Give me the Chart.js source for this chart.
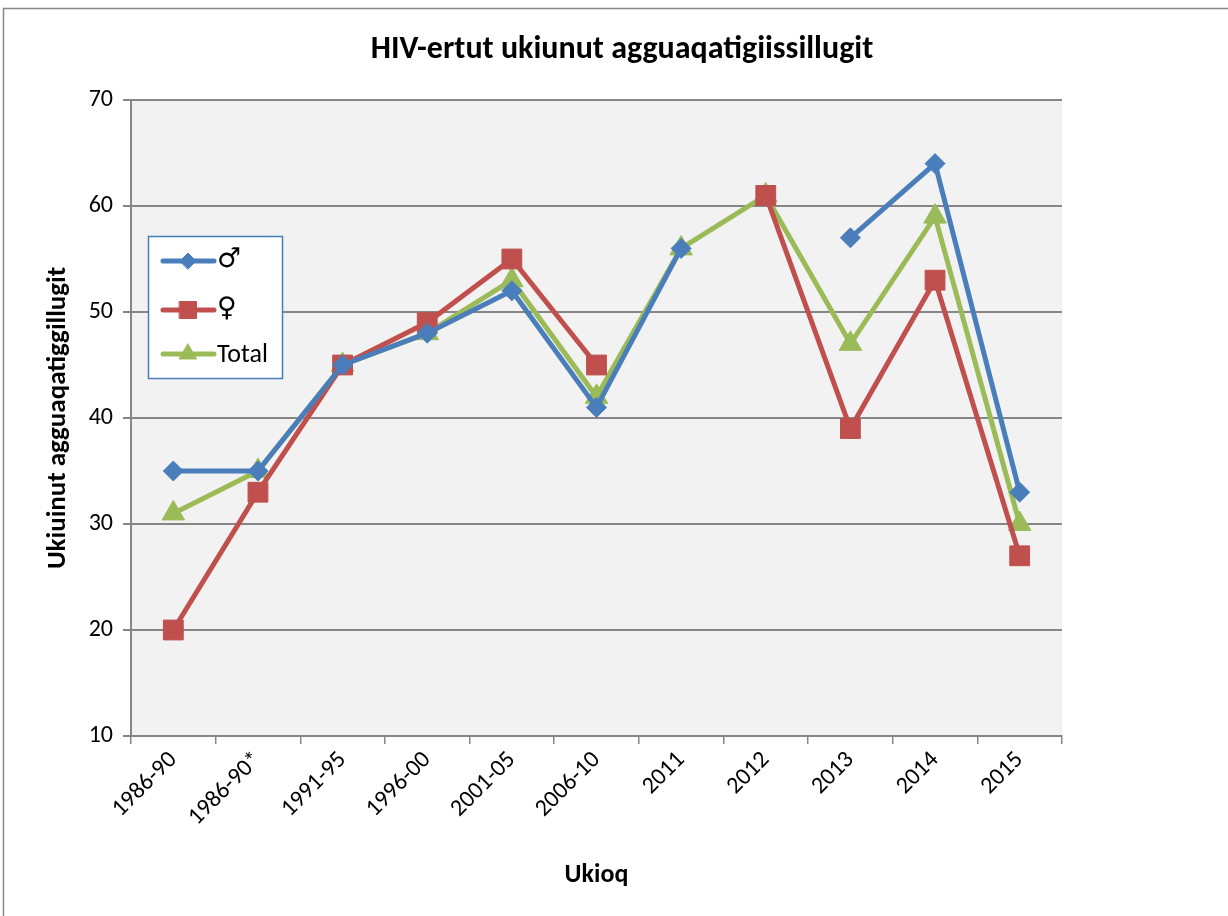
<!DOCTYPE html>
<html>
<head>
<meta charset="utf-8">
<script src="https://cdn.jsdelivr.net/npm/chart.js@4.4.1/dist/chart.umd.min.js"></script>
<style>
  html, body { margin: 0; padding: 0; background: #fff; }
  #wrap { width: 1228px; height: 916px; }
</style>
</head>
<body>
<div id="wrap"><canvas id="hivChart" width="1228" height="916"></canvas></div>
<script>
// Data
const categories = ['1986-90', '1986-90*', '1991-95', '1996-00', '2001-05', '2006-10', '2011', '2012', '2013', '2014', '2015'];
const maleValues = [35, 35, 45, 48, 52, 41, 56, null, 57, 64, 33];
const femaleValues = [20, 33, 45, 49, 55, 45, null, 61, 39, 53, 27];
const totalValues = [31, 35, 45, 48, 53, 42, 56, 61, 47, 59, 30];
const yTicks = [10, 20, 30, 40, 50, 60, 70];

const seriesNames = ['\u2642', '\u2640', 'Total'];
const colors = ['#4a7ebb', '#c0504d', '#9bbb59'];
const markers = ['rectRot', 'rect', 'triangle'];
const markerSizes = [10, 14, 13];
const legendMarkerSizes = [8, 12, 10];
const FONT = 'Carlito, "Open Sans", "Noto Sans", sans-serif';

// Fond gris de la zone de tracé + cadre extérieur + titre + légende
const decorPlugin = {
    id: 'decor',
    beforeDraw(chart) {
        const ctx = chart.ctx;
        const a = chart.chartArea;
        ctx.save();
        ctx.fillStyle = '#ffffff';
        ctx.fillRect(0, 0, chart.width, chart.height);
        ctx.strokeStyle = '#868686';
        ctx.lineWidth = 1.5;
        ctx.strokeRect(3.5, 8.5, chart.width + 10, chart.height + 10);
        ctx.fillStyle = '#f2f2f2';
        ctx.fillRect(a.left, a.top, a.right - a.left, a.bottom - a.top);
        ctx.restore();
    },
    afterDraw(chart) {
        const ctx = chart.ctx;
        ctx.save();
        // titre
        ctx.fillStyle = '#000';
        ctx.font = 'bold 32px ' + FONT;
        ctx.textAlign = 'center';
        ctx.textBaseline = 'middle';
        ctx.fillText('HIV-ertut ukiunut agguaqatigiissillugit', 622, 50);

        // légende
        const bx = 148, by = 236, bw = 134, bh = 142;
        ctx.fillStyle = '#ffffff';
        ctx.fillRect(bx, by, bw, bh);
        ctx.strokeStyle = '#4a7ebb';
        ctx.lineWidth = 1.5;
        ctx.strokeRect(bx + 0.5, by + 0.5, bw, bh);
        const rowsY = [261, 310, 354];
        for (let i = 0; i < 3; i++) {
            const y = rowsY[i];
            ctx.strokeStyle = colors[i];
            ctx.lineWidth = 5;
            ctx.lineCap = 'round';
            ctx.beginPath();
            ctx.moveTo(163, y);
            ctx.lineTo(214, y);
            ctx.stroke();
            ctx.fillStyle = colors[i];
            ctx.strokeStyle = colors[i];
            ctx.lineWidth = 1;
            Chart.helpers.drawPoint(ctx, {
                pointStyle: markers[i], radius: legendMarkerSizes[i], rotation: 0, borderWidth: 1
            }, 188, y);
            ctx.fillStyle = '#000';
            ctx.textAlign = 'left';
            ctx.textBaseline = 'middle';
            ctx.font = i < 2 ? '27px "DejaVu Sans"' : '26px ' + FONT;
            ctx.fillText(seriesNames[i], 217, y + (i < 2 ? -1 : 1));
        }
        ctx.restore();
    }
};

function makeDataset(label, values, i) {
    return {
        label: label,
        data: values,
        borderColor: colors[i],
        backgroundColor: colors[i],
        borderWidth: 5,
        pointStyle: markers[i],
        pointRadius: markerSizes[i],
        pointHoverRadius: markerSizes[i],
        pointBorderWidth: 1,
        spanGaps: false,
        tension: 0
    };
}

const ctx = document.getElementById('hivChart').getContext('2d');
const chart = new Chart(ctx, {
    type: 'line',
    data: {
        labels: categories,
        datasets: [
            makeDataset(seriesNames[0], maleValues, 0),
            makeDataset(seriesNames[1], femaleValues, 1),
            makeDataset(seriesNames[2], totalValues, 2)
        ]
    },
    options: {
        responsive: false,
        animation: false,
        devicePixelRatio: 1,
        layout: { padding: { left: 42, right: 166, top: 100, bottom: 0 } },
        plugins: {
            legend: { display: false },
            title: { display: false },
            tooltip: { enabled: false }
        },
        scales: {
            x: {
                offset: true,
                grid: { display: true, drawOnChartArea: false, offset: true, tickLength: 8, color: '#868686', lineWidth: 1.5 },
                border: { color: '#868686', width: 2 },
                ticks: {
                    color: '#000', font: { family: FONT, size: 24 },
                    minRotation: 45, maxRotation: 45, autoSkip: false, padding: 2
                },
                title: {
                    display: true, text: 'Ukioq', color: '#000',
                    font: { family: FONT, size: 26, weight: 'bold' }, padding: { top: 0, bottom: 25 }
                },
                afterFit(scale) { scale.height = 180; }
            },
            y: {
                min: 10, max: 70,
                afterBuildTicks(scale) { scale.ticks = yTicks.map(v => ({ value: v })); },
                grid: { color: '#868686', lineWidth: 2, tickLength: 8 },
                border: { color: '#868686', width: 2 },
                ticks: { color: '#000', font: { family: FONT, size: 24 }, padding: 10 },
                title: {
                    display: true, text: 'Ukiuinut agguaqatiggillugit', color: '#000',
                    font: { family: FONT, size: 27, weight: 'bold' }, padding: { top: 0, bottom: 0 }
                },
                afterFit(scale) { scale.width = 89; }
            }
        }
    },
    plugins: [decorPlugin]
});
</script>
</body>
</html>
